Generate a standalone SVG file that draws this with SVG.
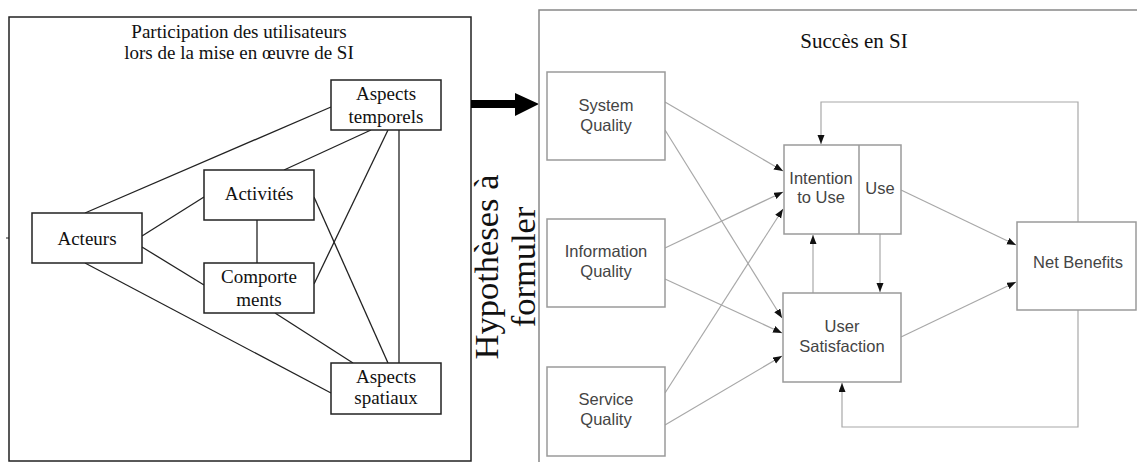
<svg xmlns="http://www.w3.org/2000/svg" width="1137" height="462" viewBox="0 0 1137 462">
<style>
.serif{font-family:"Liberation Serif","DejaVu Serif",serif;fill:#111;text-anchor:middle}
.lbl{font-size:19px}
.sans{font-family:"Liberation Sans",Arial,sans-serif;font-size:16.5px;fill:#444;text-anchor:middle}
.lbox{fill:#fff;stroke:#222;stroke-width:1.5}
.rbox{fill:#fff;stroke:#9a9a9a;stroke-width:1.5}
.lcon{stroke:#222;stroke-width:1.3;fill:none}
.rcon{stroke:#a8a8a8;stroke-width:1.2;fill:none}
</style>
<defs>
<marker id="ah" markerUnits="userSpaceOnUse" markerWidth="10" markerHeight="8" refX="9" refY="3.5" orient="auto">
<path d="M0,0 L9,3.5 L0,7 z" fill="#111"/>
</marker>
</defs>
<rect width="1137" height="462" fill="#fff"/>

<g id="left-panel">
<rect x="9" y="17" width="462" height="444" fill="none" stroke="#222" stroke-width="1.5"/>
<line x1="6" y1="238" x2="9" y2="238" stroke="#222" stroke-width="1"/>
<text class="serif lbl" x="239" y="38">Participation des utilisateurs</text>
<text class="serif lbl" x="239" y="59">lors de la mise en œuvre de SI</text>
</g>

<g id="left-connectors">
<line class="lcon" x1="85" y1="213" x2="331" y2="107"/>
<line class="lcon" x1="284" y1="170" x2="371" y2="130"/>
<line class="lcon" x1="142" y1="236" x2="204" y2="197"/>
<line class="lcon" x1="142" y1="247" x2="204" y2="285"/>
<line class="lcon" x1="257" y1="220" x2="257" y2="263"/>
<line class="lcon" x1="314" y1="284" x2="388" y2="130"/>
<line class="lcon" x1="399" y1="130" x2="399" y2="363"/>
<line class="lcon" x1="314" y1="197" x2="388" y2="363"/>
<line class="lcon" x1="275" y1="313" x2="353" y2="363"/>
<line class="lcon" x1="85" y1="263" x2="331" y2="393"/>
</g>

<g id="aspects-temporels">
<rect class="lbox" x="331" y="80" width="110" height="50"/>
<text class="serif lbl" x="386" y="100">Aspects</text>
<text class="serif lbl" x="386" y="123">temporels</text>
</g>
<g id="activites">
<rect class="lbox" x="204" y="170" width="110" height="50"/>
<text class="serif lbl" x="259" y="200">Activités</text>
</g>
<g id="acteurs">
<rect class="lbox" x="32" y="213" width="110" height="50"/>
<text class="serif lbl" x="87" y="245">Acteurs</text>
</g>
<g id="comportements">
<rect class="lbox" x="204" y="263" width="110" height="50"/>
<text class="serif lbl" x="259" y="283">Comporte</text>
<text class="serif lbl" x="259" y="306">ments</text>
</g>
<g id="aspects-spatiaux">
<rect class="lbox" x="331" y="363" width="110" height="51"/>
<text class="serif lbl" x="386" y="383">Aspects</text>
<text class="serif lbl" x="386" y="404">spatiaux</text>
</g>

<g id="hypotheses">
<path d="M471,100 H515 V93 L539,104 L515,116 V108 H471 z" fill="#000"/>
<text class="serif" font-size="34.5" transform="translate(498,267) rotate(-90)">Hypothèses à</text>
<text class="serif" font-size="34.5" transform="translate(535,267) rotate(-90)">formuler</text>
</g>

<g id="right-panel">
<path d="M539,462 V10 H1137" fill="none" stroke="#888" stroke-width="1.5"/>
<text class="serif" font-size="21" x="854" y="48">Succès en SI</text>
</g>

<g id="right-connectors">
<path class="rcon" d="M665,102 L783,171" marker-end="url(#ah)"/>
<path class="rcon" d="M665,130 L782,318" marker-end="url(#ah)"/>
<path class="rcon" d="M665,248 L783,192" marker-end="url(#ah)"/>
<path class="rcon" d="M665,279 L782,333" marker-end="url(#ah)"/>
<path class="rcon" d="M665,393 L783,209" marker-end="url(#ah)"/>
<path class="rcon" d="M665,425 L782,356" marker-end="url(#ah)"/>
<path class="rcon" d="M901,190 L1016,245" marker-end="url(#ah)"/>
<path class="rcon" d="M901,337 L1016,282" marker-end="url(#ah)"/>
<path class="rcon" d="M1078,222 V102 H821 V144" marker-end="url(#ah)"/>
<path class="rcon" d="M1078,310 V427 H842 V383" marker-end="url(#ah)"/>
<path class="rcon" d="M813,293 V235" marker-end="url(#ah)"/>
<path class="rcon" d="M880,234 V292" marker-end="url(#ah)"/>
</g>

<g id="system-quality">
<rect class="rbox" x="547" y="72" width="118" height="88"/>
<text class="sans" x="606" y="111">System</text>
<text class="sans" x="606" y="131">Quality</text>
</g>
<g id="information-quality">
<rect class="rbox" x="547" y="219" width="118" height="88"/>
<text class="sans" x="606" y="257">Information</text>
<text class="sans" x="606" y="277">Quality</text>
</g>
<g id="service-quality">
<rect class="rbox" x="547" y="367" width="118" height="89"/>
<text class="sans" x="606" y="405">Service</text>
<text class="sans" x="606" y="425">Quality</text>
</g>
<g id="intention-use">
<rect class="rbox" x="784" y="145" width="117" height="89"/>
<line x1="859" y1="145" x2="859" y2="234" stroke="#9a9a9a" stroke-width="1.5"/>
<text class="sans" x="821" y="184">Intention</text>
<text class="sans" x="821" y="203">to Use</text>
<text class="sans" x="880" y="194">Use</text>
</g>
<g id="user-satisfaction">
<rect class="rbox" x="783" y="293" width="118" height="89"/>
<text class="sans" x="842" y="332">User</text>
<text class="sans" x="842" y="352">Satisfaction</text>
</g>
<g id="net-benefits">
<rect class="rbox" x="1017" y="222" width="119" height="88"/>
<text class="sans" x="1078" y="268">Net Benefits</text>
</g>
</svg>
